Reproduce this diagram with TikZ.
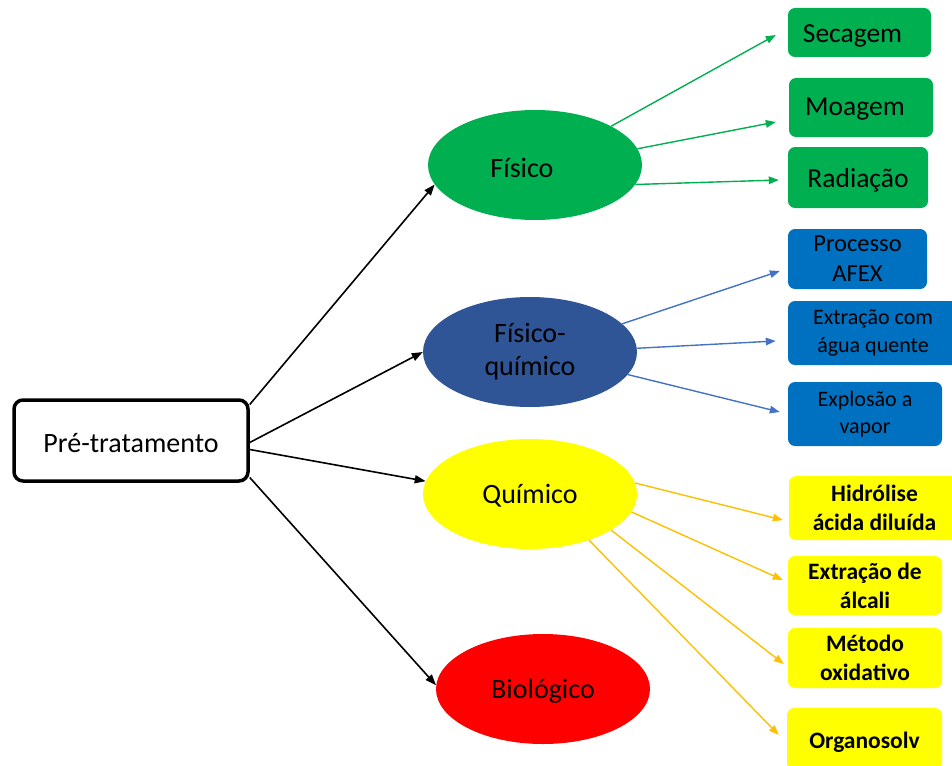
\documentclass[tikz,border=0pt]{standalone}
\usepackage{fontspec}
\setmainfont{Carlito}
\usetikzlibrary{shapes.geometric,arrows.meta}
\definecolor{cgreen}{HTML}{00B050}
\definecolor{cnavy}{HTML}{2F5597}
\definecolor{cblue}{HTML}{0070C0}
\definecolor{cyellow}{HTML}{FFFF00}
\definecolor{cred}{HTML}{FF0000}
\definecolor{lblue}{HTML}{4472C4}
\definecolor{corange}{HTML}{FFC000}
\newcommand{\lowr}[2]{\raisebox{-#1}[\height][\depth]{#2}}
\begin{document}
\begin{tikzpicture}[x=1pt,y=-1pt,
  ell/.style={ellipse, minimum width=214pt, minimum height=110pt, inner sep=0pt, align=center, font=\fontsize{28}{33}\selectfont},
  bx/.style={rectangle, rounded corners=7pt, inner sep=0pt, align=center},
  gbx/.style={bx, fill=cgreen, font=\fontsize{27.5}{32}\selectfont},
  bbx/.style={bx, fill=cblue, font=\fontsize{22}{27.5}\selectfont},
  ybx/.style={bx, fill=cyellow, font=\bfseries\fontsize{23.5}{29}\selectfont},
  blk/.style={draw=black, line width=1.6pt, -{Triangle[length=11pt,width=8pt]}},
  garr/.style={draw=cgreen, line width=1.4pt, -{Triangle[length=10pt,width=7.5pt]}},
  barr/.style={draw=lblue, line width=1.4pt, -{Triangle[length=10pt,width=7.5pt]}},
  yarr/.style={draw=corange, line width=1.4pt, -{Triangle[length=10pt,width=7.5pt]}}]
\useasboundingbox (0,0) rectangle (952,765);

% root
\node[draw=black, line width=3.5pt, rounded corners=9pt, minimum width=234pt, minimum height=81pt, inner sep=0pt, fill=white, font=\fontsize{28}{33}\selectfont] (root) at (131,440.5) {\lowr{3pt}{Pré-tratamento}};

% ellipses
\node[ell, fill=cgreen] (fis) at (535,165) {\hspace*{-26pt}\lowr{3pt}{Físico}};
\node[ell, fill=cnavy] (fq) at (530,352) {Físico-\\químico};
\node[ell, fill=cyellow] (qui) at (530,494) {\lowr{2pt}{Químico}};
\node[ell, fill=cred] (bio) at (543,689) {\lowr{2pt}{Biológico}};

% green boxes
\node[gbx, minimum width=143pt, minimum height=49pt] (sec) at (859.5,32.5) {\hspace*{-14pt}\lowr{3pt}{Secagem}};
\node[gbx, minimum width=144pt, minimum height=59pt] (moa) at (861,107.5) {\hspace*{-12pt}\lowr{2pt}{Moagem}};
\node[gbx, minimum width=140pt, minimum height=61pt] (rad) at (858,177.5) {\lowr{3pt}{Radiação}};

% blue boxes
\node[bbx, minimum width=139pt, minimum height=60pt, font=\fontsize{24.5}{30}\selectfont] (afex) at (857.5,259) {Processo\\AFEX};
\node[bbx, minimum width=170pt, minimum height=64pt] (agua) at (873,333) {Extração com\\água quente};
\node[bbx, minimum width=154pt, minimum height=64pt] (vap) at (865,414) {Explosão a\\vapor};

% yellow boxes
\node[ybx, minimum width=171pt, minimum height=64pt] (hid) at (874.5,508) {Hidrólise\\ácida diluída};
\node[ybx, minimum width=154pt, minimum height=59pt] (alc) at (865,585.5) {Extração de\\álcali};
\node[ybx, minimum width=154pt, minimum height=60pt] (oxi) at (865,658) {Método\\oxidativo};
\node[ybx, minimum width=155pt, minimum height=62pt] (org) at (864.5,739) {\lowr{3pt}{Organosolv}};

% black arrows
\draw[blk] ([yshift=36pt]root.east) -- (fis.191.5);
\draw[blk] ([yshift=-2pt]root.east) -- (fq.180);
\draw[blk] ([yshift=-9pt]root.east) -- (qui.173);
\draw[blk] ([yshift=-37pt]root.east) -- (bio.178);

% green arrows
\draw[garr] (fis.27.5) -- ([xshift=-12pt,yshift=-2.5pt]sec.west);
\draw[garr] (fis.9.5) -- ([xshift=-13pt,yshift=-14.5pt]moa.west);
\draw[garr] (fis.-11.4) -- ([xshift=-9pt,yshift=-2.5pt]rad.west);

% blue arrows
\draw[barr] (fq.17) -- ([xshift=-8pt,yshift=-12pt]afex.west);
\draw[barr] (fq.2) -- ([xshift=-12pt,yshift=-8pt]agua.west);
\draw[barr] (fq.-13) -- ([xshift=-8pt,yshift=2pt]vap.west);

% yellow arrows
\draw[yarr] (qui.6) -- ([xshift=-6pt,yshift=-12pt]hid.west);
\draw[yarr] (qui.-10.5) -- ([xshift=-5pt,yshift=5.5pt]alc.west);
\draw[yarr] (qui.-24) -- ([xshift=-4pt,yshift=-6pt]oxi.west);
\draw[yarr] (qui.-38) -- ([xshift=-8pt,yshift=4pt]org.west);
\end{tikzpicture}
\end{document}
